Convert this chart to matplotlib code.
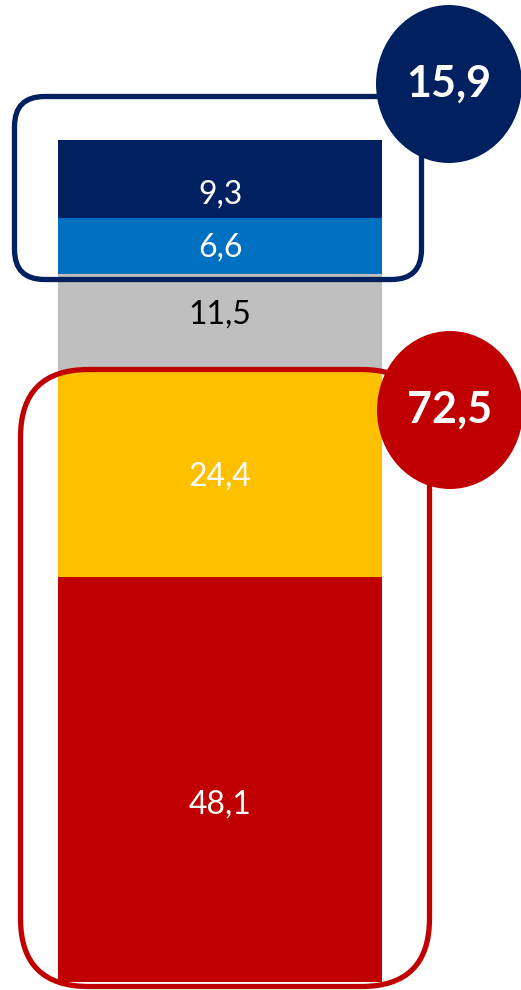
import matplotlib
matplotlib.use("Agg")
import matplotlib.pyplot as plt
from matplotlib.patches import FancyBboxPatch, Ellipse

# stacked segments, bottom to top
segments = ["Rot", "Gelb", "Grau", "Blau", "Dunkelblau"]
values = [48.1, 24.4, 11.5, 6.6, 9.3]
colors = ["#C00000", "#FFC000", "#BFBFBF", "#0070C0", "#002060"]
label_colors = ["white", "white", "black", "white", "white"]

# groups that get a box and a total bubble
top_group = ["Blau", "Dunkelblau"]
bottom_group = ["Rot", "Gelb"]

FONT = ["Lato", "DejaVu Sans"]
W, H = 521, 990
PX_PER_UNIT = 842 / sum(values)
BAR_BOTTOM_PX = 982


def fmt(v):
    return f"{v:.1f}".replace(".", ",")


fig = plt.figure(figsize=(W / 100, H / 100), dpi=100)
ax = fig.add_axes([0, 0, 1, 1])
ax.set_xlim(0, W)
ax.set_ylim(-(H - BAR_BOTTOM_PX) / PX_PER_UNIT, (BAR_BOTTOM_PX) / PX_PER_UNIT)
ax.axis("off")

# label nudges in px (Excel placed them a bit off centre)
nudge = [-25, -3, 8, -1, -15]

bottom = 0.0
for v, c, lc, dy in zip(values, colors, label_colors, nudge):
    ax.bar(220, v, width=324, bottom=bottom, color=c, linewidth=0)
    ax.text(220, bottom + v / 2 + dy / PX_PER_UNIT, fmt(v), ha="center",
            va="center", color=lc, fontsize=23, family=FONT)
    bottom += v

# overlay in pixel coordinates for boxes and bubbles
ov = fig.add_axes([0, 0, 1, 1])
ov.set_xlim(0, W)
ov.set_ylim(H, 0)
ov.axis("off")
ov.patch.set_alpha(0)

ov.add_patch(FancyBboxPatch((14.5, 96.5), 407, 183,
                            boxstyle="round,pad=0,rounding_size=30",
                            fill=False, edgecolor="#002060", lw=3.8))
ov.add_patch(FancyBboxPatch((20.5, 369.5), 409, 617,
                            boxstyle="round,pad=0,rounding_size=68",
                            fill=False, edgecolor="#C00000", lw=3.8))

top_total = sum(v for s, v in zip(segments, values) if s in top_group)
bot_total = sum(v for s, v in zip(segments, values) if s in bottom_group)

for (cx, cy), col, total in [((449, 84), "#002060", top_total),
                             ((450, 410), "#C00000", bot_total)]:
    ov.add_patch(Ellipse((cx, cy), 146, 158, color=col, lw=0))
    ov.text(cx, cy, fmt(total), ha="center", va="center", color="white",
            fontsize=31, fontweight="bold", family=FONT)

fig.savefig("out.png", dpi=100)
